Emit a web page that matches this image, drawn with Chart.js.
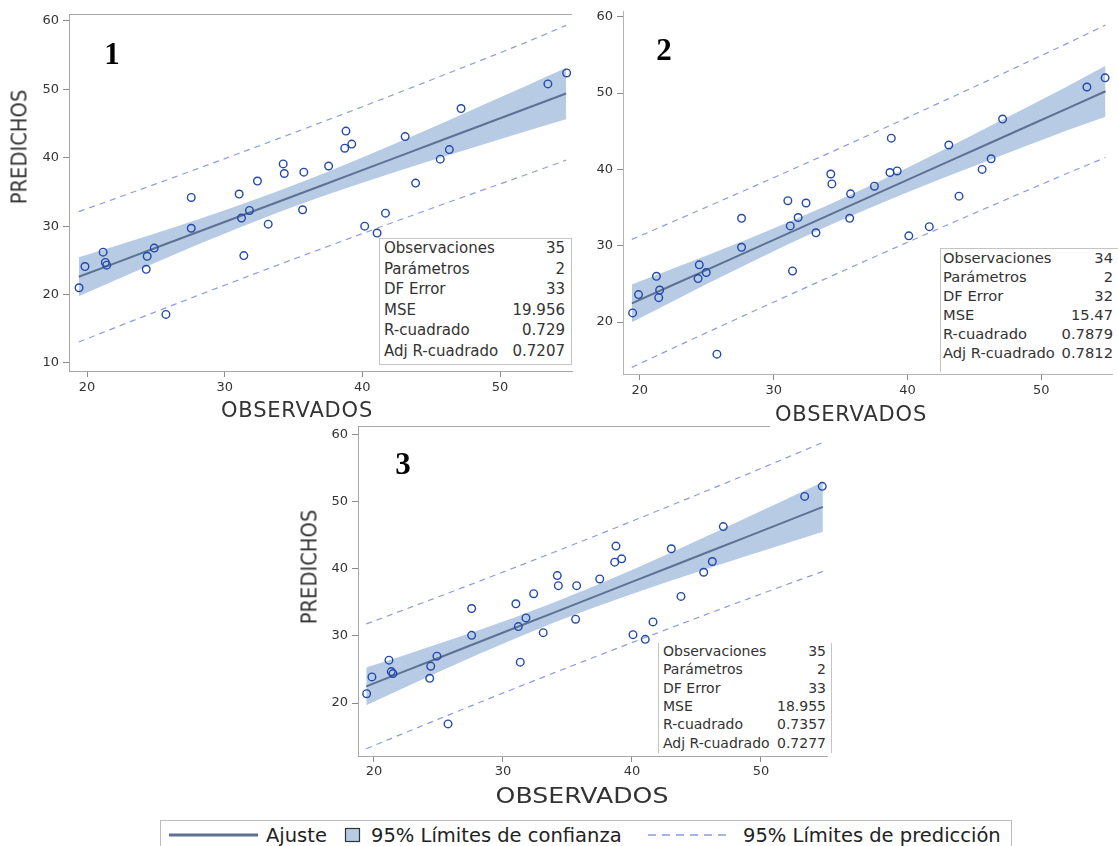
<!DOCTYPE html>
<html>
<head>
<meta charset="utf-8">
<script src="https://cdn.jsdelivr.net/npm/chart.js@4.4.1/dist/chart.umd.min.js"></script>
<style>
  html, body { margin: 0; padding: 0; background: #fff; }
  #page { position: relative; width: 1118px; height: 846px; overflow: hidden; background: #fff;
          font-family: 'DejaVu Sans', sans-serif; color: #333; }
  canvas.cv { position: absolute; }
  .lbl { position: absolute; white-space: nowrap; line-height: 1; }
  .stats { position: absolute; background: #fff; box-sizing: border-box; border-color: #c4c4c4; border-style: solid; border-width: 0; }
  .stats .row { position: absolute; left: 0; right: 0; white-space: nowrap; color: #333; }
  .stats .row span { position: absolute; }
  #legend { position: absolute; left: 160px; top: 820px; width: 852px; height: 40px; box-sizing: border-box;
            border: 1px solid #bdbdbd; background: #fff; }
  #legend .txt { position: absolute; top: 5px; font-size: 19.5px; color: #222; line-height: 1; white-space: nowrap; }
</style>
</head>
<body>
<div id="page">
  <canvas id="c1" class="cv" width="580" height="420" style="left:0;top:0"></canvas>
  <canvas id="c2" class="cv" width="538" height="420" style="left:580px;top:0"></canvas>
  <canvas id="c3" class="cv" width="545" height="400" style="left:290px;top:415px"></canvas>
  <div id="legend">
    <svg width="852" height="40" style="position:absolute;left:0;top:0">
      <line x1="8" y1="14" x2="97" y2="14" stroke="#5d7193" stroke-width="3"/>
      <rect x="184.5" y="7.5" width="14" height="13" fill="#b7cbe5" stroke="#333" stroke-width="1.2"/>
      <line x1="487" y1="14" x2="570" y2="14" stroke="#8d9ce0" stroke-width="1.3" stroke-dasharray="8 6"/>
    </svg>
    <div class="txt" style="left:105px">Ajuste</div>
    <div class="txt" style="left:210px">95% Límites de confianza</div>
    <div class="txt" style="left:582px">95% Límites de predicción</div>
  </div>
</div>
<script>
// ---- Panel 1 observations ----
const obs1 = [19.42, 19.85, 21.17, 21.33, 21.43, 24.30, 24.37, 24.88, 25.73, 27.57, 27.57, 31.05, 31.22, 31.39, 31.80, 32.38, 33.16, 34.25, 34.33, 35.75, 35.66, 37.55, 38.81, 38.72, 39.23, 40.17, 41.07, 41.68, 43.11, 43.87, 45.66, 46.32, 47.17, 53.48, 54.84];
const pred1 = [21.0, 24.1, 26.2, 24.7, 24.3, 23.7, 25.6, 26.8, 17.1, 34.2, 29.7, 34.7, 31.2, 25.7, 32.3, 36.6, 30.3, 39.1, 37.7, 37.9, 32.4, 38.8, 43.9, 41.4, 42.0, 30.0, 29.0, 31.9, 43.1, 36.3, 39.8, 41.2, 47.2, 50.8, 52.4];

// ---- Panel 2 observations ----
const obs2 = [19.46, 19.90, 21.24, 21.48, 21.41, 24.35, 24.44, 24.96, 25.76, 27.60, 27.60, 31.06, 31.24, 31.41, 31.83, 32.42, 33.16, 34.27, 34.35, 35.75, 35.68, 37.53, 38.79, 38.69, 39.23, 40.10, 41.63, 43.09, 43.85, 45.58, 46.25, 47.11, 53.41, 54.77];
const pred2 = [21.2, 23.6, 26.0, 24.2, 23.2, 25.7, 27.5, 26.5, 15.8, 33.6, 29.8, 35.9, 32.6, 26.7, 33.7, 35.6, 31.7, 39.4, 38.1, 36.8, 33.6, 37.8, 44.1, 39.6, 39.8, 31.3, 32.5, 43.2, 36.5, 40.0, 41.4, 46.6, 50.8, 52.0];

// ---- Panel 3 observations ----
const obs3 = [19.43, 19.84, 21.16, 21.34, 21.47, 24.32, 24.40, 24.88, 25.74, 27.57, 27.57, 31.00, 31.19, 31.34, 31.78, 32.38, 33.12, 34.21, 34.29, 35.71, 35.63, 37.50, 38.76, 38.66, 39.20, 40.08, 41.03, 41.63, 43.05, 43.80, 45.56, 46.23, 47.08, 53.39, 54.75];
const pred3 = [21.4, 23.9, 26.4, 24.7, 24.4, 23.7, 25.5, 27.0, 16.9, 34.1, 30.1, 34.8, 31.4, 26.1, 32.7, 36.3, 30.5, 39.0, 37.5, 37.5, 32.5, 38.5, 43.4, 41.0, 41.5, 30.2, 29.5, 32.1, 43.0, 35.9, 39.5, 41.1, 46.3, 50.8, 52.3];

// ---- Fitted line and limit curves (sampled along OBSERVADOS) ----
const fitGrid = [19.4, 22, 25, 28, 31, 34, 37, 40, 43, 46, 49, 52, 54.8];

const fit1   = [22.60, 24.57, 26.84, 29.11, 31.38, 33.65, 35.92, 38.19, 40.46, 42.74, 45.01, 47.28, 49.40];
const ciUp1  = [25.45, 27.07, 28.98, 30.95, 33.01, 35.20, 37.55, 40.03, 42.60, 45.24, 47.92, 50.62, 53.15];
const ciLow1 = [19.75, 22.07, 24.70, 27.27, 29.75, 32.10, 34.29, 36.35, 38.32, 40.24, 42.10, 43.94, 45.65];
const piUp1  = [32.13, 34.00, 36.18, 38.38, 40.62, 42.87, 45.16, 47.46, 49.80, 52.17, 54.55, 56.96, 59.35];
const piLow1 = [13.07, 15.14, 17.50, 19.84, 22.14, 24.43, 26.68, 28.92, 31.12, 33.31, 35.47, 37.60, 39.65];

const fit2   = [22.45, 24.50, 26.85, 29.20, 31.56, 33.91, 36.27, 38.62, 40.98, 43.33, 45.69, 48.04, 50.24];
const ciUp2  = [24.92, 26.68, 28.72, 30.81, 33.00, 35.28, 37.71, 40.23, 42.85, 45.51, 48.21, 50.92, 53.59];
const ciLow2 = [19.98, 22.32, 24.98, 27.59, 30.12, 32.54, 34.83, 37.01, 39.11, 41.15, 43.17, 45.16, 46.89];
const piUp2  = [30.83, 32.80, 35.08, 37.37, 39.70, 42.04, 44.41, 46.79, 49.21, 51.63, 54.09, 56.55, 58.92];
const piLow2 = [14.07, 16.20, 18.62, 21.03, 23.42, 25.78, 28.13, 30.45, 32.75, 35.03, 37.29, 39.53, 41.56];

const fit3   = [22.50, 24.46, 26.73, 29.00, 31.26, 33.53, 35.79, 38.06, 40.32, 42.59, 44.85, 47.12, 49.23];
const ciUp3  = [25.31, 26.92, 28.83, 30.79, 32.84, 35.03, 37.37, 39.85, 42.42, 45.05, 47.72, 50.41, 52.94];
const ciLow3 = [19.69, 22.00, 24.63, 27.21, 29.68, 32.03, 34.21, 36.27, 38.22, 40.13, 41.98, 43.83, 45.52];
const piUp3  = [31.80, 33.66, 35.84, 38.04, 40.26, 42.52, 44.79, 47.10, 49.43, 51.79, 54.16, 56.57, 58.84];
const piLow3 = [13.20, 15.26, 17.62, 19.96, 22.26, 24.54, 26.79, 29.02, 31.21, 33.39, 35.54, 37.67, 39.62];

// ---- Fit statistics ----
const statNames = ['Observaciones', 'Parámetros', 'DF Error', 'MSE', 'R-cuadrado', 'Adj R-cuadrado'];
const stats1 = ['35', '2', '33', '19.956', '0.729', '0.7207'];
const stats2 = ['34', '2', '32', '15.47', '0.7879', '0.7812'];
const stats3 = ['35', '2', '33', '18.955', '0.7357', '0.7277'];

// ---- Tick values ----
const xTicks = [20, 30, 40, 50];
const yTicks1 = [10, 20, 30, 40, 50, 60];
const yTicks23 = [20, 30, 40, 50, 60];

const page = document.getElementById('page');

// Partial plot frame (top / right edges) drawn after the datasets
const framePlugin = {
  id: 'frame',
  afterDatasetsDraw(chart, args, opts) {
    if (!opts || !opts.show) return;
    const { ctx, chartArea: a } = chart;
    ctx.save();
    ctx.strokeStyle = opts.color || '#a6a6a6';
    ctx.lineWidth = 1;
    ctx.beginPath();
    if (opts.top) {
      ctx.moveTo(a.left, Math.floor(a.top) + 0.5);
      ctx.lineTo(opts.topEnd != null ? opts.topEnd : a.right, Math.floor(a.top) + 0.5);
    }
    if (opts.right) {
      ctx.moveTo(Math.floor(a.right) - 0.5, a.top);
      ctx.lineTo(Math.floor(a.right) - 0.5, a.bottom);
    }
    ctx.stroke();
    ctx.restore();
  }
};

function makeChart(id, p) {
  const pts = p.obs.map((x, i) => ({ x: x, y: p.pred[i] }));
  const curve = arr => fitGrid.map((x, i) => ({ x: x, y: arr[i] }));
  const tickFont = { family: 'DejaVu Sans', size: 13 };
  const axisColor = p.axisColor || '#a6a6a6';
  return new Chart(document.getElementById(id), {
    type: 'scatter',
    data: {
      datasets: [
        { data: pts, pointStyle: 'circle', pointRadius: 3.8, pointBorderWidth: 1.4,
          borderColor: '#2148aa', backgroundColor: 'rgba(0,0,0,0)', showLine: false },
        { data: curve(p.fit), showLine: true, pointRadius: 0, borderColor: '#5d7193', borderWidth: 2, fill: false },
        { data: curve(p.piUp), showLine: true, pointRadius: 0, borderColor: '#8d9ce0', borderWidth: 1.2, borderDash: [6, 5], fill: false },
        { data: curve(p.piLow), showLine: true, pointRadius: 0, borderColor: '#8d9ce0', borderWidth: 1.2, borderDash: [6, 5], fill: false },
        { data: curve(p.ciUp), showLine: true, pointRadius: 0, borderColor: 'rgba(0,0,0,0)', borderWidth: 0,
          backgroundColor: '#b7cbe5', fill: '+1' },
        { data: curve(p.ciLow), showLine: true, pointRadius: 0, borderColor: 'rgba(0,0,0,0)', borderWidth: 0, fill: false }
      ]
    },
    options: {
      responsive: false,
      animation: false,
      devicePixelRatio: 1,
      layout: { padding: p.padding },
      plugins: {
        legend: { display: false },
        tooltip: { enabled: false },
        frame: p.frame
      },
      scales: {
        x: {
          type: 'linear', min: p.xMin, max: p.xMax,
          afterBuildTicks: s => { s.ticks = xTicks.map(v => ({ value: v })); },
          afterFit: s => { s.height = p.xAxisHeight; },
          ticks: { font: tickFont, color: '#333', padding: p.xTickPad },
          grid: { drawOnChartArea: false, color: '#8a8a8a', tickLength: 6 },
          border: { display: true, color: axisColor, width: 1 }
        },
        y: {
          type: 'linear', min: p.yMin, max: p.yMax,
          afterBuildTicks: s => { s.ticks = p.yTicks.map(v => ({ value: v })); },
          afterFit: s => { s.width = p.yAxisWidth; },
          ticks: { font: tickFont, color: '#333', padding: 4 },
          grid: { drawOnChartArea: false, color: '#8a8a8a', tickLength: 6 },
          border: { display: true, color: axisColor, width: 1 }
        }
      }
    },
    plugins: [framePlugin]
  });
}

makeChart('c1', {
  obs: obs1, pred: pred1, fit: fit1, ciUp: ciUp1, ciLow: ciLow1, piUp: piUp1, piLow: piLow1,
  xMin: 18.69, xMax: 55.23, yMin: 8.83, yMax: 61.02, yTicks: yTicks1,
  padding: { top: 14, right: 8, left: 0, bottom: 0 }, yAxisWidth: 69, xAxisHeight: 49, xTickPad: 3,
  frame: { show: true, top: true, right: false }
});

makeChart('c2', {
  obs: obs2, pred: pred2, fit: fit2, ciUp: ciUp2, ciLow: ciLow2, piUp: piUp2, piLow: piLow2,
  xMin: 18.74, xMax: 55.33, yMin: 13.2, yMax: 60.65, yTicks: yTicks23,
  padding: { top: 11, right: 1, left: 0, bottom: 0 }, yAxisWidth: 43, xAxisHeight: 46, xTickPad: 3,
  axisColor: '#b4b4b4',
  frame: { show: false }
});

makeChart('c3', {
  obs: obs3, pred: pred3, fit: fit3, ciUp: ciUp3, ciLow: ciLow3, piUp: piUp3, piLow: piLow3,
  xMin: 18.76, xMax: 55.12, yMin: 12.12, yMax: 61.17, yTicks: yTicks23,
  padding: { top: 5, right: 8, left: 0, bottom: 0 }, yAxisWidth: 68, xAxisHeight: 59, xTickPad: 2,
  frame: { show: true, top: true, right: false, topEnd: 480 }
});

// ---- Text overlays: axis titles and panel numbers ----
function addLabel(text, cx, cy, style, transform) {
  const d = document.createElement('div');
  d.className = 'lbl';
  d.textContent = text;
  Object.assign(d.style, style);
  d.style.left = cx + 'px';
  d.style.top = cy + 'px';
  d.style.transform = 'translate(-50%,-50%) ' + (transform || '');
  page.appendChild(d);
}
const titleStyle = { fontSize: '21px', color: '#333', fontFamily: 'DejaVu Sans, sans-serif' };
const numStyle = { fontSize: '31px', fontWeight: 'bold', color: '#000', fontFamily: 'Liberation Serif, serif' };

addLabel('PREDICHOS', 20, 147, titleStyle, 'rotate(-90deg) scaleX(0.93)');
addLabel('OBSERVADOS', 297, 410, Object.assign({ letterSpacing: '0.8px' }, titleStyle));
addLabel('1', 112, 53, numStyle);

addLabel('OBSERVADOS', 851, 414, Object.assign({ letterSpacing: '0.8px' }, titleStyle));
addLabel('2', 664, 49, numStyle);

addLabel('PREDICHOS', 310, 567, titleStyle, 'rotate(-90deg) scaleX(0.93)');
addLabel('OBSERVADOS', 582, 796, titleStyle, 'scaleX(1.2)');
addLabel('3', 403, 463, numStyle);

// ---- Fit statistics panels ----
function addStats(values, box) {
  const d = document.createElement('div');
  d.className = 'stats';
  Object.assign(d.style, {
    left: box.left + 'px', top: box.top + 'px', width: box.width + 'px', height: box.height + 'px',
    borderWidth: box.borders, fontSize: box.font + 'px'
  });
  statNames.forEach((name, i) => {
    const r = document.createElement('div');
    r.className = 'row';
    r.style.top = (box.firstRow + i * box.pitch) + 'px';
    r.style.lineHeight = '1';
    const a = document.createElement('span');
    a.textContent = name; a.style.left = box.padL + 'px';
    const b = document.createElement('span');
    b.textContent = values[i]; b.style.right = box.padR + 'px';
    r.appendChild(a); r.appendChild(b);
    d.appendChild(r);
  });
  page.appendChild(d);
}

addStats(stats1, { left: 379, top: 238, width: 193, height: 127, borders: '1px 1px 1px 1px', font: 15,
                   firstRow: 2, pitch: 20.6, padL: 4, padR: 6 });
addStats(stats2, { left: 940, top: 248, width: 178, height: 124, borders: '1px 0 0 1px', font: 14.7,
                   firstRow: 2, pitch: 19, padL: 2, padR: 5 });
addStats(stats3, { left: 658, top: 643, width: 174, height: 110, borders: '0 1px 0 1px', font: 14,
                   firstRow: 1, pitch: 18.3, padL: 4, padR: 5 });
</script>
</body>
</html>
